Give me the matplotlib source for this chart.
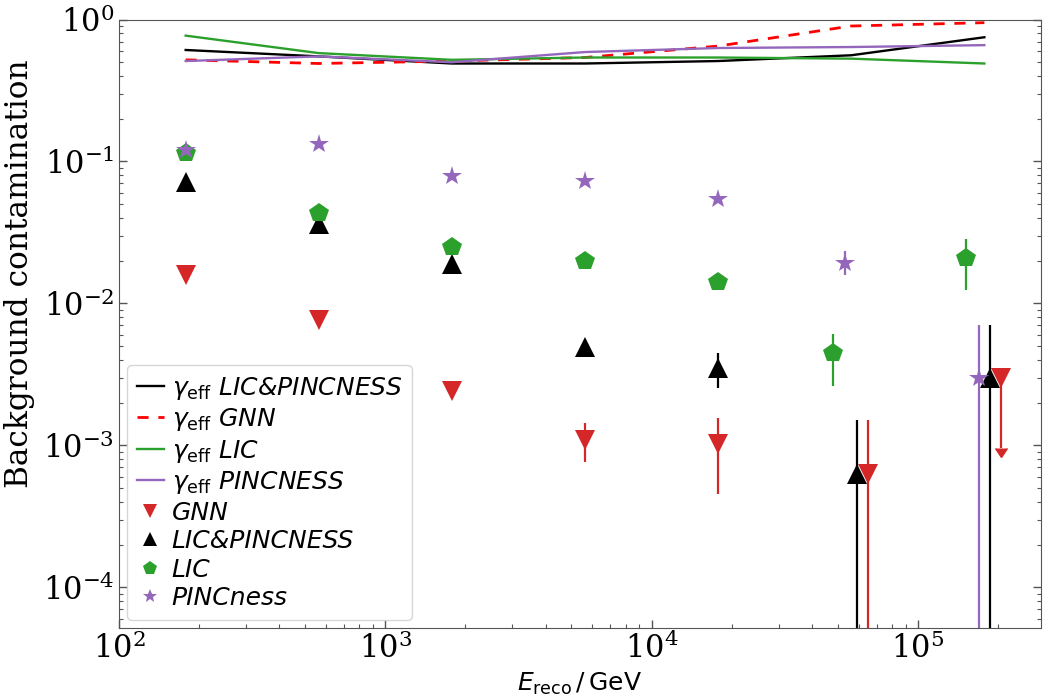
import numpy as np
import matplotlib
matplotlib.use("Agg")
import matplotlib.pyplot as plt

plt.rcParams['font.family'] = ['DejaVu Serif']
plt.rcParams['mathtext.fontset'] = 'cm'

# ---- data ----
bin_centers = [178, 562, 1778, 5623, 17783, 56234, 177828]

eff_licpinc = [0.61, 0.55, 0.49, 0.49, 0.51, 0.56, 0.75]
eff_gnn = [0.52, 0.49, 0.51, 0.54, 0.65, 0.90, 0.95]
eff_lic = [0.77, 0.58, 0.52, 0.54, 0.54, 0.53, 0.49]
eff_pinc = [0.51, 0.55, 0.50, 0.59, 0.63, 0.64, 0.66]

# GNN
x_gnn = [178, 562, 1778, 5623, 17783, 64900, 205000]
y_gnn = [0.0159, 0.0077, 0.00243, 0.0011, 0.00102, 0.00063, 0.0030]
lo_gnn = [0.0159, 0.0077, 0.00243, 0.00076, 0.000456, 1e-6, 0.00096]
hi_gnn = [0.0159, 0.0077, 0.00243, 0.00145, 0.00156, 0.00151, 0.0030]
uplim_gnn = [False, False, False, False, False, False, True]

# LIC&PINCNESS
x_lp = [178, 562, 1778, 5623, 17783, 59300, 187200]
y_lp = [0.0713, 0.0364, 0.0190, 0.00493, 0.00351, 0.00063, 0.0030]
lo_lp = [0.0713, 0.0364, 0.0190, 0.00493, 0.00255, 1e-6, 1e-6]
hi_lp = [0.0713, 0.0364, 0.0190, 0.00493, 0.0045, 0.00151, 0.00703]

# LIC
x_lic = [178, 562, 1778, 5623, 17783, 47900, 151600]
y_lic = [0.114, 0.0434, 0.025, 0.0199, 0.0142, 0.00445, 0.0208]
lo_lic = [0.114, 0.0434, 0.025, 0.0199, 0.0142, 0.00262, 0.0125]
hi_lic = [0.114, 0.0434, 0.025, 0.0199, 0.0142, 0.00608, 0.0283]

# PINCness
x_pinc = [178, 562, 1778, 5623, 17783, 53500, 169600]
y_pinc = [0.120, 0.1336, 0.0789, 0.0727, 0.0544, 0.0193, 0.00298]
lo_pinc = [0.120, 0.1336, 0.0789, 0.0727, 0.0544, 0.0159, 1e-6]
hi_pinc = [0.120, 0.1336, 0.0789, 0.0727, 0.0544, 0.0235, 0.00703]

RED = '#d62728'
GREEN = '#2ca02c'
PURPLE = '#9467bd'

fig = plt.figure(figsize=(10.43, 6.97), dpi=100)
ax = fig.add_axes([0.1141, 0.0994, 0.998 - 0.1141, 0.972 - 0.0994])

lw = 1.7
ax.plot(bin_centers, eff_licpinc, color='k', lw=lw,
        label=r'$\gamma_\mathrm{eff}$ LIC&PINCNESS')
ax.plot(bin_centers, eff_gnn, color='r', lw=2.0, ls=(0, (4, 3.5)),
        label=r'$\gamma_\mathrm{eff}$ GNN')
ax.plot(bin_centers, eff_lic, color=GREEN, lw=lw,
        label=r'$\gamma_\mathrm{eff}$ LIC')
ax.plot(bin_centers, eff_pinc, color=PURPLE, lw=lw,
        label=r'$\gamma_\mathrm{eff}$ PINCNESS')


def err(y, lo, hi):
    y = np.asarray(y)
    return [y - np.asarray(lo), np.asarray(hi) - y]


ms = 15
series = [
    (x_gnn, y_gnn, lo_gnn, hi_gnn, uplim_gnn, 'v', RED, 'GNN'),
    (x_lp, y_lp, lo_lp, hi_lp, False, '^', 'k', 'LIC&PINCNESS'),
    (x_lic, y_lic, lo_lic, hi_lic, False, 'p', GREEN, 'LIC'),
    (x_pinc, y_pinc, lo_pinc, hi_pinc, False, '*', PURPLE, 'PINCness'),
]
for xs, ys, lo, hi, upl, mk, c, lab in series:
    eb = ax.errorbar(xs, ys, yerr=err(ys, lo, hi), uplims=upl, fmt='none',
                     ecolor=c, elinewidth=1.6)
    for cap in eb[1]:
        cap.set_markersize(9)
        cap.set_color(c)
        cap.set_markerfacecolor(c)
        cap.set_markeredgecolor(c)
    ax.plot(xs, ys, ls='none', marker=mk, color=c, ms=ms, mew=0, label=lab)

ax.set_xscale('log')
ax.set_yscale('log')
ax.set_xlim(100, 2.9e5)
ax.set_ylim(5.2e-5, 1.0)

for s in ax.spines.values():
    s.set_color('#555555')
ax.tick_params(which='both', direction='in', right=True, top=False,
               colors='#555555', labelcolor='black', labelsize=22)
ax.tick_params(which='major', length=6, width=1)
ax.tick_params(which='minor', length=3, width=0.8)

ax.set_ylabel('Background contamination', fontsize=22.5)
ax.yaxis.set_label_coords(-0.091, 0.582)
ax.set_xlabel(r'$E_\mathrm{reco}\,/\,\mathrm{GeV}$', fontsize=18,
              math_fontfamily='dejavusans', labelpad=4)

ax.legend(loc='lower left',
          prop={'family': 'DejaVu Sans', 'style': 'italic', 'size': 18,
                'math_fontfamily': 'dejavusans'},
          markerscale=0.7, handlelength=1.1, handletextpad=0.3,
          labelspacing=0.18, borderaxespad=0.3, borderpad=0.4)

fig.savefig('out.png', dpi=100)
